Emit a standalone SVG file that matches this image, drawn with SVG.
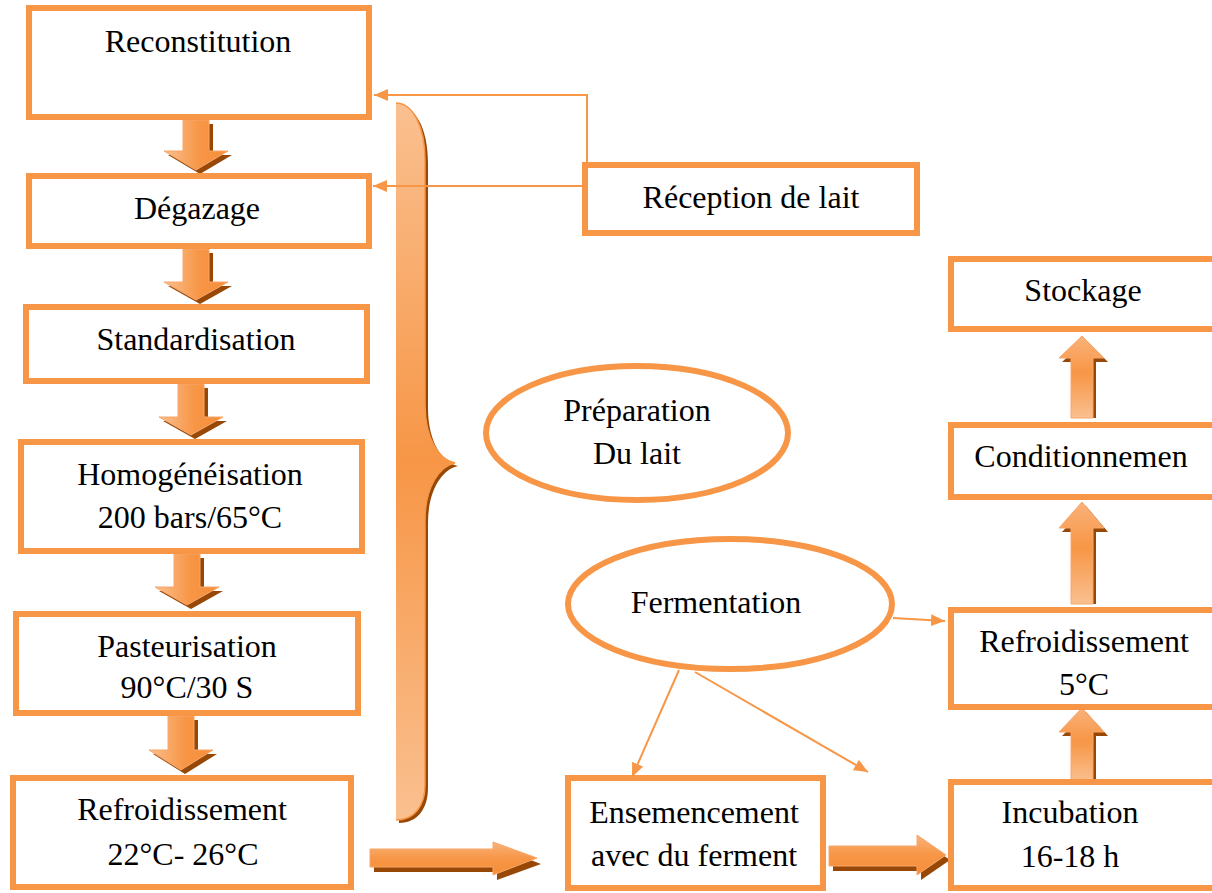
<svg xmlns="http://www.w3.org/2000/svg" width="1212" height="893" viewBox="0 0 1212 893">
<style>
.box{fill:#fff;stroke:#F79646;stroke-width:6}
.ell{fill:#fff;stroke:#F79646;stroke-width:6}
.t{font-family:'Liberation Serif','DejaVu Serif',serif;font-size:32px;fill:#000;text-anchor:middle}
.con{fill:none;stroke:#F79646;stroke-width:2;marker-end:url(#ah)}
.sh{fill:#984806}
.dn{fill:url(#gh);stroke:#F8A66A;stroke-width:1}
.hz{fill:url(#gv);stroke:#F8A66A;stroke-width:1}
</style>
<defs>
<marker id="ah" viewBox="0 0 14 12" refX="14" refY="6" markerWidth="14" markerHeight="12" markerUnits="userSpaceOnUse" orient="auto">
<path d="M0,0 L14,6 L0,12 z" fill="#F79646"/>
</marker>
<linearGradient id="gh" x1="0" y1="0" x2="1" y2="0">
<stop offset="0" stop-color="#FAC090"/>
<stop offset="0.55" stop-color="#F79646"/>
<stop offset="1" stop-color="#F68E3A"/>
</linearGradient>
<linearGradient id="gv" x1="0" y1="0" x2="0" y2="1">
<stop offset="0" stop-color="#FAB27A"/>
<stop offset="0.5" stop-color="#F79646"/>
<stop offset="1" stop-color="#F68E3A"/>
</linearGradient>
<linearGradient id="gu" x1="0" y1="0" x2="0" y2="1">
<stop offset="0" stop-color="#FAB27A"/>
<stop offset="0.45" stop-color="#F79646"/>
<stop offset="1" stop-color="#FAC090"/>
</linearGradient>
<linearGradient id="gb" x1="0" y1="0" x2="0" y2="1">
<stop offset="0" stop-color="#FAC090"/>
<stop offset="0.5" stop-color="#F79646"/>
<stop offset="1" stop-color="#FAC090"/>
</linearGradient>
</defs>

<g id="brace">
<path class="sh" d="M399 106 C415 106,428 128,428 163 L428 408 C428 443,443 463,458 466 C443 469,428 489,428 523 L428 788 C428 808,418 823,399 823 Z"/>
<path fill="url(#gb)" d="M396 103 C412 103,425 125,425 160 L425 405 C425 440,440 460,455 463 C440 466,425 486,425 520 L425 785 C425 805,415 820,396 820 Z"/>
<path fill="none" stroke="#F79646" stroke-width="1.5" d="M396 103 C412 103,425 125,425 160 L425 405 C425 440,440 460,455 463 C440 466,425 486,425 520 L425 785 C425 805,415 820,396 820"/>
</g>

<g id="block-arrows">
<path class="sh" d="M187 124 H213 V155 H232 L200 174 L168 155 H187 Z"/>
<path class="dn" d="M183 120 H209 V151 H228 L196 170 L164 151 H183 Z"/>
<path class="sh" d="M187 253 H213 V286 H232 L200 304 L168 286 H187 Z"/>
<path class="dn" d="M183 249 H209 V282 H228 L196 300 L164 282 H183 Z"/>
<path class="sh" d="M182 388 H208 V421 H227 L195 439 L163 421 H182 Z"/>
<path class="dn" d="M178 384 H204 V417 H223 L191 435 L159 417 H178 Z"/>
<path class="sh" d="M178 558 H204 V591 H223 L191 609 L159 591 H178 Z"/>
<path class="dn" d="M174 554 H200 V587 H219 L187 605 L155 587 H174 Z"/>
<path class="sh" d="M172 720 H198 V754 H217 L185 774 L153 754 H172 Z"/>
<path class="dn" d="M168 716 H194 V750 H213 L181 770 L149 750 H168 Z"/>

<path class="sh" d="M374 854 H497 V847 L541 864 L497 880 V872 H374 Z"/>
<path class="hz" d="M370 849 H493 V842 L537 858 L493 875 V867 H370 Z"/>
<path class="sh" d="M833 851 H921 V840 L950 860 L921 880 V871 H833 Z"/>
<path class="hz" d="M829 846 H917 V835 L946 855 L917 875 V866 H829 Z"/>

<path class="sh" d="M1075 418 V362 H1062 L1086 340 L1108 362 H1096 V418 Z"/>
<path class="dn" style="fill:url(#gu)" d="M1071 418 V358 H1059 L1082 336 L1104 358 H1093 V418 Z"/>
<path class="sh" d="M1075 604 V532 H1062 L1086 506 L1108 532 H1096 V604 Z"/>
<path class="dn" style="fill:url(#gu)" d="M1071 604 V528 H1059 L1082 502 L1104 528 H1093 V604 Z"/>
<path class="sh" d="M1075 784 V736 H1062 L1086 712 L1108 736 H1096 V784 Z"/>
<path class="dn" style="fill:url(#gu)" d="M1071 782 V732 H1059 L1082 708 L1104 732 H1093 V782 Z"/>
</g>

<g id="connectors">
<path class="con" d="M587 162 V95 H374"/>
<path class="con" d="M582 186 H373"/>
<path class="con" d="M893 618 L945 621"/>
<path class="con" d="M679 670 L632 777"/>
<path class="con" d="M695 672 L868 772"/>
</g>

<g id="n-reconstitution"><rect class="box" x="29" y="8" width="340" height="109"/><text class="t" x="198" y="52">Reconstitution</text></g>
<g id="n-degazage"><rect class="box" x="29" y="176" width="340" height="70"/><text class="t" x="197" y="219">Dégazage</text></g>
<g id="n-standardisation"><rect class="box" x="26" y="307" width="341" height="74"/><text class="t" x="196" y="350">Standardisation</text></g>
<g id="n-homogeneisation"><rect class="box" x="21" y="442" width="341" height="109"/><text class="t" x="190" y="485">Homogénéisation</text><text class="t" x="190" y="528">200 bars/65°C</text></g>
<g id="n-pasteurisation"><rect class="box" x="16" y="614" width="342" height="99"/><text class="t" x="187" y="657">Pasteurisation</text><text class="t" x="187" y="698">90°C/30 S</text></g>
<g id="n-refroidissement1"><rect class="box" x="13" y="778" width="338" height="109"/><text class="t" x="182" y="820">Refroidissement</text><text class="t" x="183" y="865">22°C- 26°C</text></g>
<g id="n-reception"><rect class="box" x="585" y="165" width="332" height="68"/><text class="t" x="751" y="208">Réception de lait</text></g>
<g id="n-preparation"><ellipse class="ell" cx="637" cy="433" rx="151" ry="67"/><text class="t" x="637" y="421">Préparation</text><text class="t" x="637" y="464">Du lait</text></g>
<g id="n-fermentation"><ellipse class="ell" cx="730" cy="604" rx="162" ry="65"/><text class="t" x="716" y="613">Fermentation</text></g>
<g id="n-ensemencement"><rect class="box" x="568" y="778" width="255" height="110"/><text class="t" x="694" y="823">Ensemencement</text><text class="t" x="694" y="866">avec du ferment</text></g>
<g id="n-incubation"><rect class="box" x="951" y="782" width="280" height="106"/><text class="t" x="1070" y="823">Incubation</text><text class="t" x="1070" y="867">16-18 h</text></g>
<g id="n-refroidissement2"><rect class="box" x="951" y="610" width="280" height="97"/><text class="t" x="1084" y="652">Refroidissement</text><text class="t" x="1084" y="695">5°C</text></g>
<g id="n-conditionnement"><rect class="box" x="951" y="425" width="280" height="72"/><text class="t" x="1081" y="467">Conditionnemen</text></g>
<g id="n-stockage"><rect class="box" x="951" y="259" width="280" height="70"/><text class="t" x="1083" y="301">Stockage</text></g>
</svg>
